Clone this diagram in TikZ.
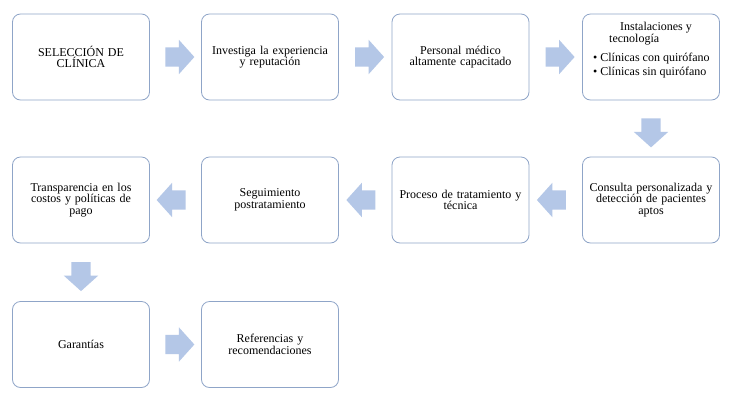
\documentclass[tikz,border=0pt]{standalone}
\usepackage{fontspec}
\setmainfont{Liberation Serif}
\usetikzlibrary{shapes.arrows}
\definecolor{boxline}{RGB}{143,165,200}
\definecolor{arrowfill}{RGB}{180,199,231}

\begin{document}
\begin{tikzpicture}[x=1pt,y=-1pt,
  box/.style={draw=boxline,line width=0.8pt,rounded corners=8pt,minimum width=137pt,minimum height=86pt,inner sep=0pt,text width=130pt,align=center,font=\fontsize{12}{11.5}\selectfont},
  blockarrow/.style={single arrow,fill=arrowfill,draw=none,minimum height=29pt,inner xsep=0pt,inner ysep=9.5pt,single arrow head extend=7.5pt,single arrow tip angle=96}]
\fill[white] (0,0) rectangle (729,400);
\useasboundingbox (0,0) rectangle (729,400);
% row 1
\draw (81,57) node[box] (b1) {SELECCIÓN DE\\ CLÍNICA};
\draw (270,57) node[box] (b2) {Investiga la experiencia\\ y reputación};
\draw (460.5,57) node[box] (b3) {Personal médico\\ altamente capacitado};
\draw (651,57) node[box] (b4) {};
\node[anchor=north west,inner sep=0pt,align=left,font=\fontsize{12}{12}\selectfont] (b4t) at (593,21.5)
  {\hspace*{27pt}Instalaciones y\\ \hspace*{16pt}tecnología\\[7pt]
   \textbullet\ Clínicas con quirófano\\[2pt] \textbullet\ Clínicas sin quirófano};
% row 2
\draw (651,200) node[box] (b5) {Consulta personalizada y\\ detección de pacientes\\ aptos};
\draw (460.5,200) node[box] (b6) {Proceso de tratamiento y\\ técnica};
\draw (270,200) node[box] (b7) {Seguimiento\\ postratamiento};
\draw (81,200) node[box] (b8) {Transparencia en los\\ costos y políticas de\\ pago};
% row 3
\draw (81,344.5) node[box] (b9) {Garantías};
\draw (270,344.5) node[box] (b10) {Referencias y\\ recomendaciones};
% block arrows
\path (b1) -- (b2) node[blockarrow,midway] (a1) {};
\path (b2) -- (b3) node[blockarrow,midway] (a2) {};
\path (b3) -- (b4) node[blockarrow,midway] (a3) {};
\path (b4) -- (b5) node[blockarrow,midway,rotate=-90] (a4) {};
\path (b5) -- (b6) node[blockarrow,midway,rotate=180] (a5) {};
\path (b6) -- (b7) node[blockarrow,midway,rotate=180] (a6) {};
\path (b7) -- (b8) node[blockarrow,midway,rotate=180] (a7) {};
\path (b8) -- (b9) node[blockarrow,midway,rotate=-90] (a8) {};
\path (b9) -- (b10) node[blockarrow,midway] (a9) {};
\end{tikzpicture}
\end{document}
